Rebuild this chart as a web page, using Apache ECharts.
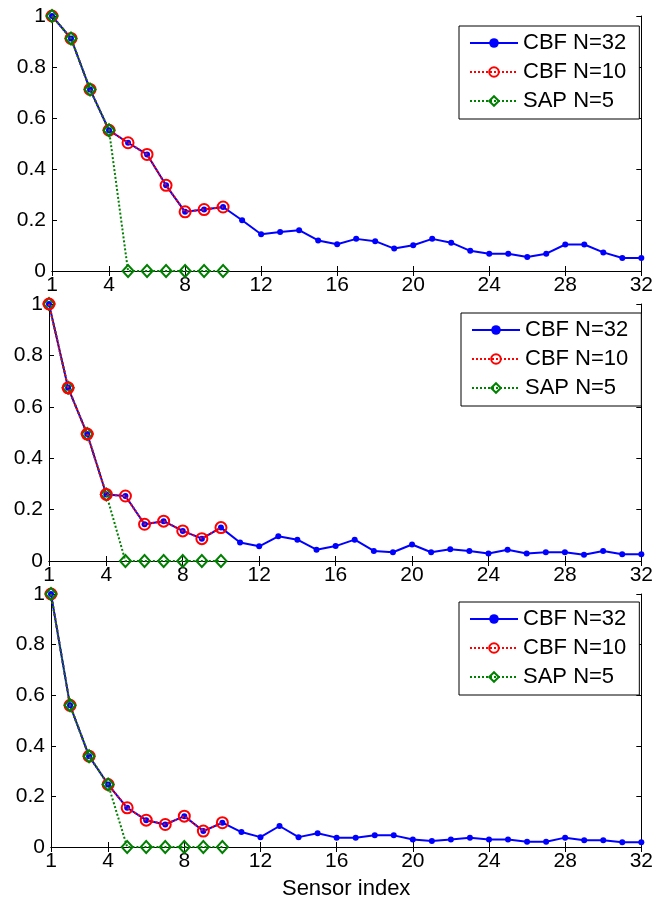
<!DOCTYPE html>
<html>
<head>
<meta charset="utf-8">
<style>
  html, body { margin: 0; padding: 0; background: #fff; }
  #chart { width: 656px; height: 901px; }
</style>
<script src="https://cdn.jsdelivr.net/npm/echarts@6.0.0/dist/echarts.min.js"></script>
</head>
<body>
<div id="chart"></div>
<script>
// sensor index on x
var sensorIndex = [1, 2, 3, 4, 5, 6, 7, 8, 9, 10, 11, 12, 13, 14, 15, 16,
  17, 18, 19, 20, 21, 22, 23, 24, 25, 26, 27, 28, 29, 30, 31, 32];
var xTicks = [1, 4, 8, 12, 16, 20, 24, 28, 32];

// panel 1 (top)
var cbf32Top = [1.000, 0.912, 0.712, 0.552, 0.503, 0.457, 0.336, 0.232, 0.241, 0.251,
  0.199, 0.144, 0.153, 0.160, 0.120, 0.105, 0.126, 0.117, 0.088, 0.101, 0.126, 0.111,
  0.079, 0.068, 0.068, 0.055, 0.068, 0.104, 0.104, 0.073, 0.051, 0.051];
var cbf10Top = [1.000, 0.912, 0.712, 0.552, 0.503, 0.457, 0.336, 0.232, 0.241, 0.251];
var sap5Top = [1.000, 0.912, 0.712, 0.552, 0, 0, 0, 0, 0, 0];

// panel 2 (middle)
var cbf32Mid = [1.000, 0.674, 0.494, 0.259, 0.253, 0.143, 0.155, 0.117, 0.087, 0.130,
  0.072, 0.057, 0.096, 0.083, 0.044, 0.058, 0.083, 0.039, 0.034, 0.064, 0.034, 0.046,
  0.039, 0.029, 0.044, 0.029, 0.034, 0.034, 0.024, 0.039, 0.026, 0.026];
var cbf10Mid = [1.000, 0.674, 0.494, 0.259, 0.253, 0.143, 0.155, 0.117, 0.087, 0.130];
var sap5Mid = [1.000, 0.674, 0.494, 0.259, 0, 0, 0, 0, 0, 0];

// panel 3 (bottom)
var cbf32Bot = [1.000, 0.560, 0.359, 0.247, 0.155, 0.106, 0.089, 0.122, 0.063, 0.096,
  0.059, 0.039, 0.083, 0.039, 0.054, 0.037, 0.037, 0.046, 0.046, 0.030, 0.024, 0.030,
  0.037, 0.030, 0.030, 0.021, 0.021, 0.037, 0.027, 0.027, 0.019, 0.019];
var cbf10Bot = [1.000, 0.560, 0.359, 0.247, 0.155, 0.106, 0.089, 0.122, 0.063, 0.096];
var sap5Bot = [1.000, 0.560, 0.359, 0.247, 0, 0, 0, 0, 0, 0];

var names = ['CBF N=32', 'CBF N=10', 'SAP N=5'];

var FONT = '"Liberation Sans", Arial, Helvetica, sans-serif';
var panels = [
  { cbf32: cbf32Top, cbf10: cbf10Top, sap: sap5Top, grid: { left: 52, right: 13, top: 16, height: 255 }, legend: [459, 26], sapOnTop: true },
  { cbf32: cbf32Mid, cbf10: cbf10Mid, sap: sap5Mid, grid: { left: 49, right: 9, top: 304, height: 257 }, legend: [461, 313], sapOnTop: false },
  { cbf32: cbf32Bot, cbf10: cbf10Bot, sap: sap5Bot, grid: { left: 51, right: 13, top: 594, height: 254 }, legend: [459, 602], sapOnTop: true }
];

function pairs(vals) {
  return vals.map(function (v, i) { return [sensorIndex[i], v]; });
}

var grids = [], xAxes = [], yAxes = [], series = [], legends = [];

panels.forEach(function (p, i) {
  grids.push(p.grid);
  var line = { lineStyle: { color: '#000', width: 1 } };
  // bottom x axis
  xAxes.push({
    type: 'value', gridIndex: i, position: 'bottom', min: 1, max: 32,
    axisLine: line,
    axisTick: { inside: true, length: 5, customValues: xTicks, lineStyle: { color: '#000' } },
    axisLabel: { customValues: xTicks, color: '#000', fontSize: 21, fontFamily: FONT, margin: 4 },
    splitLine: { show: false },
    name: i === 2 ? 'Sensor index' : '',
    nameLocation: 'middle', nameGap: 31,
    nameTextStyle: { color: '#000', fontSize: 22, fontFamily: FONT }
  });
  // top x axis (box)
  xAxes.push({
    type: 'value', gridIndex: i, position: 'top', min: 1, max: 32,
    axisLine: line,
    axisTick: { inside: true, length: 5, customValues: xTicks, lineStyle: { color: '#000' } },
    axisLabel: { show: false },
    splitLine: { show: false }
  });
  // left y axis
  yAxes.push({
    type: 'value', gridIndex: i, position: 'left', min: 0, max: 1, interval: 0.2,
    axisLine: { show: true, lineStyle: { color: '#000', width: 1 } },
    axisTick: { show: true, inside: true, length: 5, lineStyle: { color: '#000' } },
    axisLabel: { color: '#000', fontSize: 21, fontFamily: FONT, margin: 6 },
    splitLine: { show: false }
  });
  // right y axis (box)
  yAxes.push({
    type: 'value', gridIndex: i, position: 'right', min: 0, max: 1, interval: 0.2,
    axisLine: { show: true, lineStyle: { color: '#000', width: 1 } },
    axisTick: { show: true, inside: true, length: 5, lineStyle: { color: '#000' } },
    axisLabel: { show: false },
    splitLine: { show: false }
  });

  var xi = i * 2, yi = i * 2;
  series.push({
    name: names[0], type: 'line', xAxisIndex: xi, yAxisIndex: yi, z: 2,
    data: pairs(p.cbf32),
    color: '#0000ff',
    symbol: 'circle', symbolSize: 6,
    lineStyle: { color: '#0000ff', width: 2 },
    itemStyle: { color: '#0000ff' }
  });
  series.push({
    name: names[1], type: 'line', xAxisIndex: xi, yAxisIndex: yi, z: p.sapOnTop ? 3 : 5,
    data: pairs(p.cbf10),
    color: '#ff0000',
    symbol: 'circle', symbolSize: 11,
    lineStyle: { color: '#ff0000', width: 2, type: 'dotted' },
    itemStyle: { color: 'rgba(255,255,255,0)', borderColor: '#ff0000', borderWidth: 2 }
  });
  series.push({
    name: names[2], type: 'line', xAxisIndex: xi, yAxisIndex: yi, z: 4,
    data: pairs(p.sap),
    color: '#008000',
    symbol: 'diamond', symbolSize: [11, 12],
    lineStyle: { color: '#008000', width: 2, type: 'dotted' },
    itemStyle: { color: 'rgba(255,255,255,0)', borderColor: '#008000', borderWidth: 2 }
  });

  legends.push({
    data: names, orient: 'vertical',
    left: p.legend[0], top: p.legend[1],
    itemWidth: 48, itemHeight: 12, itemGap: 7,
    padding: [6, 13, 7, 10],
    borderColor: '#000', borderWidth: 1, backgroundColor: '#fff',
    selectedMode: false,
    textStyle: { color: '#000', fontSize: 22, fontFamily: FONT, lineHeight: 22 }
  });
});

var myChart = echarts.init(document.getElementById('chart'));
myChart.setOption({
  animation: false,
  backgroundColor: '#fff',
  grid: grids,
  xAxis: xAxes,
  yAxis: yAxes,
  legend: legends,
  series: series
});
</script>
</body>
</html>
